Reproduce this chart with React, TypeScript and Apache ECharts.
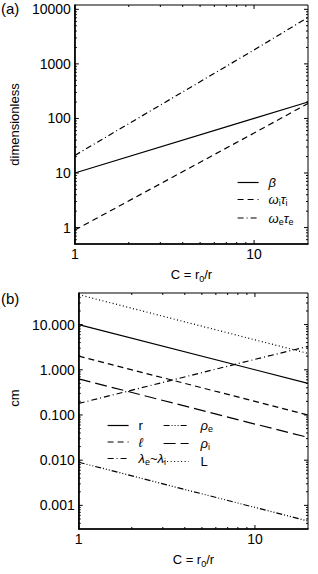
import React, { useEffect, useRef } from 'react';
import * as echarts from 'echarts';

// ---- data ----
const C = [1, 10, 20];
// panel (a)
const beta = [10, 100, 200];
const omegaITauI = [0.9, 54, 188];
const omegaETauE = [21, 1800, 7100];
// panel (b)
const rVals = [10, 1, 0.5];
const ellVals = [2, 0.2, 0.1];
const lambdaVals = [0.18, 1.7, 3.3];
const rhoEVals = [0.009, 0.0009, 0.00045];
const rhoIVals = [0.63, 0.063, 0.032];
const LVals = [46, 4.6, 2.3];

// axes
const xRange = [1, 20];
const yRangeA = [0.5, 12000];
const yRangeB = [0.0003, 50];
const xMajors = [1, 10];
const xTickLabels = ['1', '10'];
const yMajorsA = [1, 10, 100, 1000, 10000];
const yTickLabelsA = ['1', '10', '100', '1000', '10000'];
const yMajorsB = [0.001, 0.01, 0.1, 1, 10];
const yTickLabelsB = ['0.001', '0.010', '0.100', '1.000', '10.000'];
const decades = [0.0001, 0.001, 0.01, 0.1, 1, 10, 100, 1000, 10000];
const minorMultipliers = [2, 3, 4, 5, 6, 7, 8, 9];

const FONT = '"Liberation Sans", Arial, Helvetica, sans-serif';

function ticksFor(range: number[], majors: number[]) {
  const out: { v: number; len: number }[] = [];
  majors.forEach((m) => out.push({ v: m, len: 4 }));
  decades.forEach((d) =>
    minorMultipliers.forEach((k) => {
      const v = d * k;
      if (v > range[0] * 1.0001 && v < range[1] * 0.9999) out.push({ v, len: 2 });
    })
  );
  return out;
}

function labelFmt(majors: number[], labels: string[]) {
  return (v: number) => {
    const i = majors.findIndex((m) => Math.abs(Math.log10(v / m)) < 1e-6);
    return i >= 0 ? labels[i] : '';
  };
}

function tickSeries(idx: number, xr: number[], yr: number[], xt: any[], yt: any[]) {
  const data = [
    ...xt.map((t) => [t.v, yr[0], t.len, 0]),
    ...yt.map((t) => [xr[0], t.v, t.len, 1]),
  ];
  const st = { stroke: '#000', lineWidth: 1 };
  return {
    type: 'custom',
    xAxisIndex: idx,
    yAxisIndex: idx,
    silent: true,
    z: 5,
    data,
    renderItem: (_p: any, api: any) => {
      const len = api.value(2);
      const kind = api.value(3);
      if (kind === 0) {
        const v = api.value(0);
        const b = api.coord([v, yr[0]]);
        const t = api.coord([v, yr[1]]);
        return {
          type: 'group',
          children: [
            { type: 'line', shape: { x1: b[0], y1: b[1], x2: b[0], y2: b[1] - len }, style: st },
            { type: 'line', shape: { x1: t[0], y1: t[1], x2: t[0], y2: t[1] + len }, style: st },
          ],
        };
      }
      const v = api.value(1);
      const l = api.coord([xr[0], v]);
      const r = api.coord([xr[1], v]);
      return {
        type: 'group',
        children: [
          { type: 'line', shape: { x1: l[0], y1: l[1], x2: l[0] + len, y2: l[1] }, style: st },
          { type: 'line', shape: { x1: r[0], y1: r[1], x2: r[0] - len, y2: r[1] }, style: st },
        ],
      };
    },
  };
}

const richSub = {
  g: { fontFamily: FONT, fontSize: 13, fontStyle: 'italic', lineHeight: 16, color: '#000' },
  s: { fontFamily: FONT, fontSize: 9, verticalAlign: 'bottom', lineHeight: 16, color: '#000' },
  t: { fontFamily: FONT, fontSize: 13, lineHeight: 16, color: '#000' },
};

const legendNames: Record<string, string> = {
  beta: '{g|β}',
  wi: '{g|ω}{s|i}{g|τ}{s|i}',
  we: '{g|ω}{s|e}{g|τ}{s|e}',
  r: '{t|r}',
  ell: '{g|ℓ}',
  lam: '{g|λ}{s|e}{t|~}{g|λ}{s|i}',
  rhoe: '{g|ρ}{s|e}',
  rhoi: '{g|ρ}{s|i}',
  L: '{t|L}',
};

function lineSeries(name: string, idx: number, ys: number[], dash: any) {
  return {
    type: 'line',
    name,
    xAxisIndex: idx,
    yAxisIndex: idx,
    data: C.map((c, i) => [c, ys[i]]),
    symbol: 'none',
    showSymbol: false,
    lineStyle: { color: '#000', width: 1.2, type: dash },
    itemStyle: { color: '#000' },
    z: 3,
  };
}

function legendBox(data: string[], left: number, top: number, itemHeight: number, gap: number, pad: number, w: number) {
  return {
    data,
    left,
    top,
    orient: 'vertical',
    itemWidth: w,
    itemHeight,
    itemGap: gap,
    padding: 0,
    selectedMode: false,
    itemStyle: { color: 'rgba(0,0,0,0)', borderWidth: 0, opacity: 0 },
    lineStyle: { width: 1.2, color: '#000' },
    formatter: (n: string) => legendNames[n],
    textStyle: { fontFamily: FONT, fontSize: 13, color: '#000', padding: [0, 0, 0, pad], rich: richSub },
  };
}

export default function App() {
  const ref = useRef<HTMLDivElement>(null);
  useEffect(() => {
    if (!ref.current) return;
    const chart = echarts.init(ref.current, undefined, { renderer: 'svg' });
    const axisLbl = { fontFamily: FONT, fontSize: 14, color: '#000' };
    const xName = 'C = r{s|0}/r';
    const xNameStyle = {
      fontFamily: FONT,
      fontSize: 13,
      color: '#000',
      lineHeight: 18,
      rich: {
        s: { fontFamily: FONT, fontSize: 9, verticalAlign: 'bottom', lineHeight: 18, color: '#000' },
      },
    };
    const xAxis = (idx: number) => ({
      type: 'log',
      logBase: 10,
      gridIndex: idx,
      min: xRange[0],
      max: xRange[1],
      splitLine: { show: false },
      axisTick: { show: false },
      axisLine: { show: true, lineStyle: { color: '#000', width: 1.6 } },
      axisLabel: { ...axisLbl, margin: 3, formatter: labelFmt(xMajors, xTickLabels) },
      name: xName,
      nameLocation: 'middle',
      nameGap: 21,
      nameTextStyle: xNameStyle,
    });
    const yAxis = (idx: number, yr: number[], majors: number[], labels: string[], name: string, pad: number[]) => ({
      type: 'log',
      logBase: 10,
      gridIndex: idx,
      min: yr[0],
      max: yr[1],
      splitLine: { show: false },
      axisTick: { show: false },
      axisLine: { show: true, lineStyle: { color: '#000', width: 1.6 } },
      axisLabel: { ...axisLbl, margin: 4, formatter: labelFmt(majors, labels) },
      name,
      nameLocation: 'middle',
      nameGap: 46,
      nameTextStyle: { fontFamily: FONT, fontSize: 13, color: '#000', padding: pad },
    });
    chart.setOption({
      animation: false,
      backgroundColor: '#fff',
      title: [
        { text: '(a)', left: 1, top: 1, padding: 0, textStyle: { fontFamily: FONT, fontSize: 15, fontWeight: 'normal', color: '#000' } },
        { text: '(b)', left: 1, top: 291, padding: 0, textStyle: { fontFamily: FONT, fontSize: 15, fontWeight: 'normal', color: '#000' } },
      ],
      grid: [
        { left: 71, top: 5, width: 237, height: 239, show: true, borderColor: '#000', borderWidth: 1, backgroundColor: 'transparent' },
        { left: 71, top: 293, width: 237, height: 236, show: true, borderColor: '#000', borderWidth: 1, backgroundColor: 'transparent' },
      ],
      xAxis: [xAxis(0), xAxis(1)],
      yAxis: [
        yAxis(0, yRangeA, yMajorsA, yTickLabelsA, 'dimensionless', [0, 0, 0, 0]),
        yAxis(1, yRangeB, yMajorsB, yTickLabelsB, 'cm', [0, 0, 0, 26]),
      ],
      legend: [
        legendBox(['beta', 'wi', 'we'], 237, 176, 14, 4, 5, 21),
        legendBox(['r', 'ell', 'lam'], 107, 419, 12, 3.5, 5, 21),
        legendBox(['rhoe', 'rhoi', 'L'], 163, 419, 12, 3.5, 7, 25),
      ],
      series: [
        lineSeries('beta', 0, beta, 'solid'),
        lineSeries('wi', 0, omegaITauI, [6, 4]),
        lineSeries('we', 0, omegaETauE, [6, 3, 1, 3]),
        lineSeries('r', 1, rVals, 'solid'),
        lineSeries('ell', 1, ellVals, [6, 4]),
        lineSeries('lam', 1, lambdaVals, [6, 3, 1, 3]),
        lineSeries('rhoe', 1, rhoEVals, [6, 2, 1, 2, 1, 2, 1, 2]),
        lineSeries('rhoi', 1, rhoIVals, [12, 5]),
        lineSeries('L', 1, LVals, [1, 2.5]),
        tickSeries(0, xRange, yRangeA, ticksFor(xRange, xMajors), ticksFor(yRangeA, yMajorsA)),
        tickSeries(1, xRange, yRangeB, ticksFor(xRange, xMajors), ticksFor(yRangeB, yMajorsB)),
      ],
    });
    return () => chart.dispose();
  }, []);
  return <div ref={ref} style={{ position: 'absolute', left: 0, top: 0, width: 318, height: 574 }} />;
}
